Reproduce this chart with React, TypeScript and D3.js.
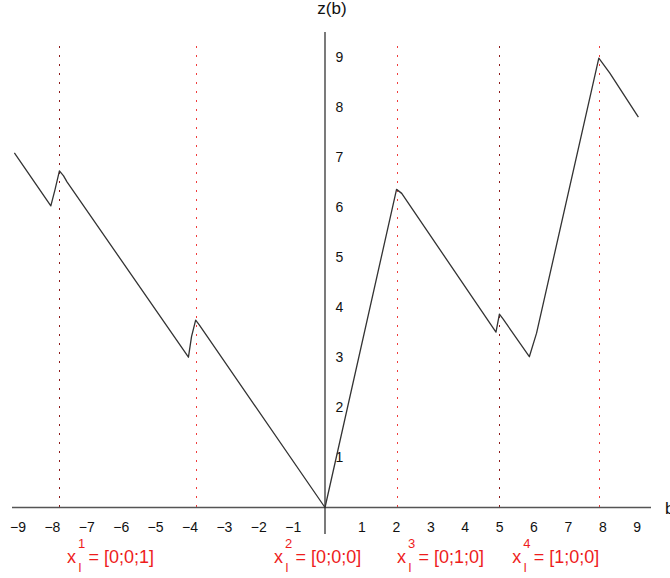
import React from "react";
import * as d3 from "d3";

// Piecewise curve z(b): breakpoints read along b
const curveB = [-9.03, -7.97, -7.85, -7.72, -7.6, -7.5, -3.97, -3.88, -3.76, -3.65, 0, 2.08, 2.23, 4.97, 5.07, 5.18, 5.94, 6.15, 7.96, 8.28, 9.11];
const curveZ = [7.08, 6.02, 6.34, 6.72, 6.62, 6.5, 3.0, 3.41, 3.74, 3.64, 0, 6.35, 6.27, 3.5, 3.86, 3.76, 3.01, 3.48, 8.97, 8.67, 7.79];

// Vertical guides at the kinks
const guideB = [-7.72, -3.76, 2.08, 5.07, 7.97];
const guideColor = ["#8c1a1a", "#f03c3c", "#f03c3c", "#8c1a1a", "#f03c3c"];

// Tick labels
const xTicks = [-9, -8, -7, -6, -5, -4, -3, -2, -1, 1, 2, 3, 4, 5, 6, 7, 8, 9];
const yTicks = [1, 2, 3, 4, 5, 6, 7, 8, 9];

// Annotations below the axis
const annotB = [-7.47, -1.45, 2.12, 5.47];
const annotSup = ["1", "2", "3", "4"];
const annotVec = ["[0;0;1]", "[0;0;0]", "[0;1;0]", "[1;0;0]"];

const W = 670;
const H = 578;
const FONT = "'Liberation Sans', Arial, Helvetica, sans-serif";

export default function App() {
  const x = d3.scaleLinear().domain([0, 1]).range([325, 325 + 34.4]);
  const y = d3.scaleLinear().domain([0, 1]).range([507.5, 507.5 - 50.1]);

  const pts: [number, number][] = curveB.map((b, i) => [b, curveZ[i]]);
  const line = d3
    .line<[number, number]>()
    .x((d) => x(d[0]))
    .y((d) => y(d[1]));

  const x0 = x(0);
  const y0 = y(0);
  const crisp = (v: number) => Math.round(v) + 0.5;

  return (
    <svg
      width={W}
      height={H}
      style={{ position: "absolute", left: 0, top: 0, background: "#fff" }}
      fontFamily={FONT}
    >
      {/* guides */}
      {guideB.map((b, i) => (
        <line
          key={"g" + i}
          x1={crisp(x(b))}
          x2={crisp(x(b))}
          y1={46}
          y2={y0}
          stroke={guideColor[i]}
          strokeWidth={1}
          strokeDasharray="2,7"
        />
      ))}

      {/* axes */}
      <line x1={12} x2={651} y1={y0} y2={y0} stroke="#555" strokeWidth={1.3} />
      <line x1={x0} x2={x0} y1={32} y2={534} stroke="#222" strokeWidth={1.2} />

      {/* x tick labels */}
      {xTicks.map((t) => (
        <text
          key={"xt" + t}
          x={x(t) + 2.6}
          y={532}
          fontSize={14}
          textAnchor="middle"
          fill="#111"
        >
          {t < 0 ? "\u2212" + Math.abs(t) : String(t)}
        </text>
      ))}

      {/* y tick labels */}
      {yTicks.map((t) => (
        <text
          key={"yt" + t}
          x={x0 + 14.5}
          y={y(t)}
          dy="0.36em"
          fontSize={14}
          textAnchor="middle"
          fill="#111"
        >
          {t}
        </text>
      ))}

      {/* axis titles */}
      <text x={x0 + 7} y={14} fontSize={17} textAnchor="middle" fill="#111">
        z(b)
      </text>
      <text x={665} y={514} fontSize={17} fill="#111">
        b
      </text>

      {/* curve */}
      <path d={line(pts) ?? ""} fill="none" stroke="#333" strokeWidth={1.3} strokeLinejoin="round" />

      {/* annotations */}
      {annotB.map((b, i) => {
        const ax = x(b);
        return (
          <g key={"a" + i} fill="#ee1c1c">
            <text x={ax - 1} y={563} fontSize={18}>
              x
            </text>
            <text x={ax + 10} y={548} fontSize={13}>
              {annotSup[i]}
            </text>
            <text x={ax + 10.5} y={572} fontSize={13}>
              l
            </text>
            <text x={ax + 20.5} y={563} fontSize={18}>
              {"= " + annotVec[i]}
            </text>
          </g>
        );
      })}
    </svg>
  );
}
